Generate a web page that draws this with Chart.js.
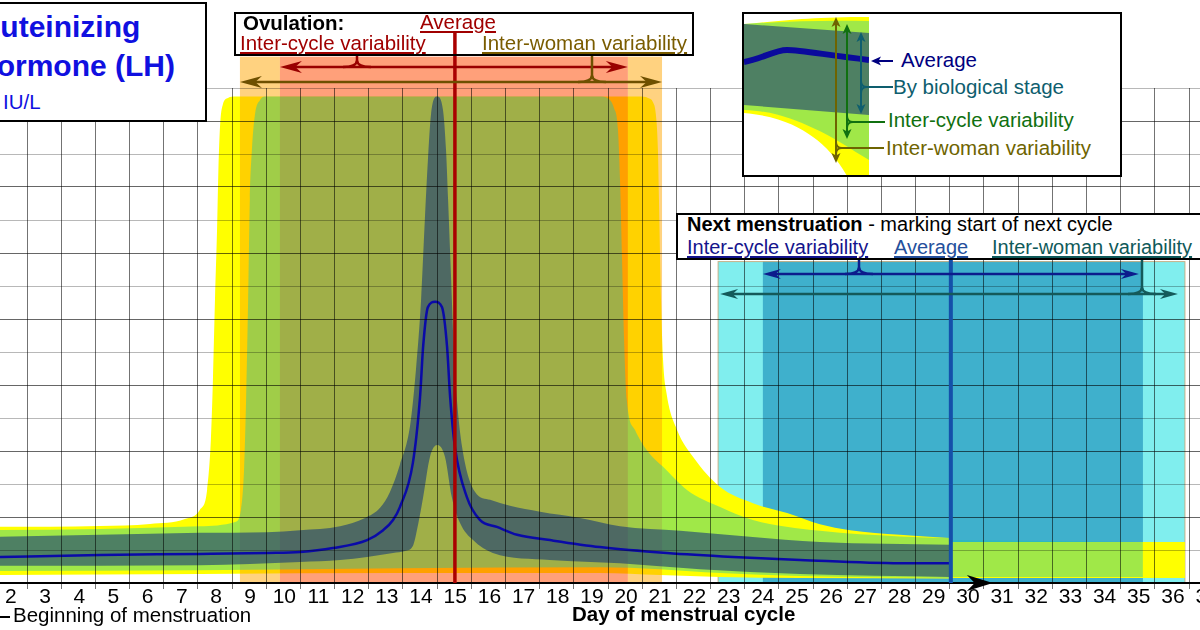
<!DOCTYPE html>
<html>
<head>
<meta charset="utf-8">
<script src="https://cdn.jsdelivr.net/npm/chart.js@4.4.1/dist/chart.umd.min.js"></script>
<style>
  body { margin: 0; background: #fff; }
  #wrap { position: relative; width: 1200px; height: 630px; overflow: hidden; font-family: "Liberation Sans", Arial, sans-serif; }
  #c { position: absolute; left: 0; top: 0; }
  .box { position: absolute; box-sizing: border-box; border: 2px solid #000; background: #fff; }
  .t { position: absolute; white-space: nowrap; font-size: 20.5px; line-height: 20.5px; }
  .s { font-size: 20px; line-height: 20px; }
  .u { text-decoration: underline; text-decoration-thickness: 1.5px; text-underline-offset: 2px; }
</style>
</head>
<body>
<div id="wrap">
  <canvas id="c" width="1200" height="630"></canvas>

  <!-- title -->
  <div class="box" style="left:-3px;top:2px;width:210px;height:120px"></div>
  <div class="t" style="left:-18px;top:12px;font-size:30px;line-height:30px;font-weight:bold;color:#1010e0">Luteinizing</div>
  <div class="t" style="left:-25px;top:51px;font-size:30px;line-height:30px;font-weight:bold;color:#1010e0">Hormone (LH)</div>
  <div class="t" style="left:3px;top:92px;color:#1010e0">IU/L</div>

  <!-- ovulation labels (box is see-through, nothing else is drawn under it) -->
  <div class="box" style="left:234px;top:12px;width:460px;height:44px;background:transparent"></div>
  <div class="t" style="left:243px;top:13px;font-weight:bold">Ovulation:</div>
  <div class="t u" style="left:420px;top:12px;color:#a00000">Average</div>
  <div class="t u" style="left:240px;top:33px;color:#a00000">Inter-cycle variability</div>
  <div class="t u" style="left:482px;top:33px;color:#7a5c00">Inter-woman variability</div>

  <!-- next menstruation labels -->
  <div class="box" style="left:676px;top:213px;width:540px;height:47px"></div>
  <div class="t s" style="left:687px;top:214px"><b>Next menstruation</b> - marking start of next cycle</div>
  <div class="t s u" style="left:687px;top:237px;color:#14148c">Inter-cycle variability</div>
  <div class="t s u" style="left:894px;top:237px;color:#24509c">Average</div>
  <div class="t s u" style="left:992px;top:237px;color:#0f5a5a">Inter-woman variability</div>

  <!-- legend -->
  <div class="box" style="left:742px;top:12px;width:380px;height:165px"></div>
  <svg width="1200" height="630" style="position:absolute;left:0;top:0">
    <defs><clipPath id="ic"><rect x="744" y="14" width="125" height="161"/></clipPath></defs>
    <g clip-path="url(#ic)">
      <path d="M744,24 C780,21 810,17 869,17 L869,176 L847,176 C838,160 826,146 813,137 C798,126 778,116 744,113 Z" fill="#ffff00"/>
      <path d="M744,24 C790,21 830,20 869,21 L869,160 C852,150 832,136 813,128 C795,120 775,111 744,110 Z" fill="rgba(17,197,180,0.4)"/>
      <path d="M744,24 L869,33 L869,115 L744,105 Z" fill="rgba(23,59,119,0.6)"/>
      <path d="M744,62 C762,59 774,50 787,50 C800,50 820,54 869,60" fill="none" stroke="#0a0a9c" stroke-width="6"/>
    </g>
    <g fill="none" stroke-width="2">
      <path d="M836,24 V157 M836,142 Q836,148 842,148 H884 M836,154 Q836,148 842,148" stroke="#6e6400"/>
      <path d="M847,30 V134 M847,116 Q847,122 853,122 H885 M847,128 Q847,122 853,122" stroke="#107010"/>
      <path d="M861,38 V109 M861,81 Q861,87 867,87 H893 M861,93 Q861,87 867,87" stroke="#0e5e6e"/>
      <path d="M877,61 H893" stroke="#000080"/>
    </g>
    <polygon points="836,17 831.5,27 836,24.5 840.5,27" fill="#6e6400"/>
    <polygon points="836,163 831.5,153 836,155.5 840.5,153" fill="#6e6400"/>
    <polygon points="847,24 842.5,34 847,31.5 851.5,34" fill="#107010"/>
    <polygon points="847,139 842.5,129 847,131.5 851.5,129" fill="#107010"/>
    <polygon points="861,32 856.5,42 861,39.5 865.5,42" fill="#0e5e6e"/>
    <polygon points="861,114 856.5,104 861,106.5 865.5,104" fill="#0e5e6e"/>
    <polygon points="871,61 881,56.5 878.5,61 881,65.5" fill="#000080"/>
  </svg>
  <div class="t" style="left:901px;top:50px;color:#000080">Average</div>
  <div class="t" style="left:893px;top:77px;color:#0e5e6e">By biological stage</div>
  <div class="t" style="left:888px;top:110px;color:#107010">Inter-cycle variability</div>
  <div class="t" style="left:886px;top:138px;color:#6e6400">Inter-woman variability</div>

  <!-- axis captions -->
  <div style="position:absolute;left:0;top:616px;width:10px;height:2px;background:#000"></div>
  <div class="t" style="left:13px;top:605px">Beginning of menstruation</div>
  <div class="t" style="left:572px;top:604px;font-weight:bold">Day of menstrual cycle</div>
</div>

<script>
// day labels under the axis
const dayTicks = [2, 3, 4, 5, 6, 7, 8, 9, 10, 11, 12, 13, 14, 15, 16, 17, 18, 19, 20,
                  21, 22, 23, 24, 25, 26, 27, 28, 29, 30, 31, 32, 33, 34, 35, 36, 37];

// average LH level (IU/L)
const avgDay = [1.5, 4.64, 7.56, 9.52, 10.49, 11.45, 12.45, 12.92, 13.21, 13.41, 13.79, 14.0, 14.09, 14.23, 14.44,
                14.64, 14.79, 14.88, 15.02, 15.37, 15.75, 16.25, 16.84, 17.8, 19.26, 21.22, 23.16, 25.12, 28.04, 29.5];
const avgLH = [3.9, 4.25, 4.4, 4.55, 4.7, 5.3, 6.5, 8.0, 9.55, 11.5, 18.2, 28.2, 35.8, 41.8, 42.6,
               41.8, 35.8, 28.2, 20.6, 13.0, 9.55, 8.5, 7.3, 6.5, 5.45, 4.55, 3.95, 3.5, 3.0, 3.0];

// range by biological stage
const stageHiDay = [1.5, 4.64, 7.56, 9.52, 10.49, 11.66, 12.39, 12.83, 13.12, 13.41, 13.71, 13.88, 14.03, 14.14, 14.23, 14.32, 14.5,
                    14.67, 14.76, 14.82, 14.91, 14.99, 15.08, 15.23, 15.61, 16.05, 16.63, 17.51, 18.68, 19.85, 21.61, 23.65, 25.7, 29.5];
const stageHi = [7.0, 7.3, 7.6, 7.7, 8.0, 8.6, 9.85, 11.4, 13.8, 17.9, 23.9, 32.3, 42.9, 55.0, 64.1, 71.0, 73.7,
                 71.7, 65.6, 58.1, 45.9, 35.3, 27.7, 20.6, 13.8, 12.6, 11.7, 10.8, 9.85, 8.6, 7.9, 7.0, 6.2, 5.8];
const stageLoDay = [1.5, 7.56, 10.49, 11.66, 12.45, 13.21, 13.56, 13.79, 13.94, 14.09, 14.29, 14.5, 14.73, 14.93, 15.17,
                    15.55, 16.13, 17.8, 19.85, 22.19, 25.12, 29.5];
const stageLo = [2.6, 2.7, 3.2, 3.5, 3.95, 4.55, 4.85, 5.6, 8.8, 13.0, 19.1, 20.9, 19.1, 13.0, 9.1,
                 6.5, 4.55, 3.5, 3.0, 2.1, 1.35, 0.9];

// inter-cycle variability
const cycleHiDay = [1.5, 4.64, 7.56, 8.59, 8.76, 8.85, 8.91, 8.97, 9.02, 9.08, 9.17, 9.32, 9.49, 19.26, 19.5,
                    19.67, 19.79, 19.85, 19.91, 19.97, 20.05, 20.29, 20.67, 21.11, 21.81, 22.78, 23.74, 25.7, 28.04, 29.5];
const cycleHi = [8.0, 8.2, 8.6, 9.25, 11.1, 17.1, 27.7, 42.9, 58.1, 65.6, 71.0, 73.2, 73.7, 73.7, 73.4,
                 72.0, 68.7, 61.1, 49.0, 36.8, 27.7, 23.2, 19.9, 17.6, 14.1, 11.5, 9.55, 7.9, 7.05, 6.8];
const cycleLoDay = [1.5, 7.56, 13.41, 19.26, 21.02, 22.78, 25.12, 29.5];
const cycleLo = [1.8, 1.95, 2.25, 2.4, 2.1, 1.5, 1.05, 0.75];

// inter-woman variability
const womanHiDay = [1.5, 4.64, 6.1, 7.12, 7.56, 7.77, 7.88, 7.94, 8.0, 8.06, 8.1, 8.15, 8.23, 8.38, 8.59, 20.43, 20.67,
                    20.82, 20.9, 20.96, 20.99, 21.05, 21.11, 21.22, 21.52, 21.99, 22.78, 23.74, 24.74, 25.7, 26.58, 28.04, 29.5];
const womanHi = [8.5, 8.65, 8.95, 9.7, 11.1, 14.1, 21.7, 30.8, 42.9, 53.5, 62.6, 69.4, 72.5, 73.5, 73.7, 73.7, 73.5,
                 72.8, 71.0, 65.6, 58.1, 42.9, 33.8, 28.5, 23.2, 19.1, 14.55, 12.1, 10.6, 8.9, 8.0, 7.3, 6.8];
const womanLoDay = [1.5, 7.56, 13.41, 19.26, 21.02, 22.78, 25.12, 29.5];
const womanLo = [1.2, 1.35, 1.5, 1.5, 1.2, 0.9, 0.75, 0.7];

// start of the next cycle
const nextCycleDay = [29.5, 35.15];
const nextCycleHi = [6.5, 6.2];
const nextCycleLo = [0.9, 0.9];
const nextWomanDay = [29.5, 36.38];
const nextWomanHi = [6.2, 6.2];
const nextWomanLo = [0.76, 0.76];

// ovulation and next menstruation (days)
const ovulationWoman = [8.73, 21.08];
const ovulationCycle = [9.9, 20.08];
const ovulationAvg = 15.02;
const ovulationTop = 79.75;
const mensWoman = [22.72, 36.38];
const mensCycle = [24.03, 35.15];
const mensAvg = 29.53;
const mensTop = 48.7;
const nextCycleArrow = 30.76;

Chart.defaults.font.family = '"Liberation Sans", Arial, sans-serif';

function pts(days, vals) {
  return days.map((d, i) => ({x: d, y: vals[i]}));
}
function band(days, vals, color) {
  return {
    data: pts(days, vals),
    borderWidth: 0,
    borderColor: 'transparent',
    pointRadius: 0,
    fill: color ? '+1' : false,
    backgroundColor: color || 'transparent',
    cubicInterpolationMode: 'monotone'
  };
}

function span(ctx, x, r, top, bot) {
  const a = x.getPixelForValue(r[0]), b = x.getPixelForValue(r[1]);
  ctx.fillRect(a, top, b - a, bot - top);
}
function head(ctx, x, y, dir, len, half) {
  ctx.beginPath();
  ctx.moveTo(x, y);
  ctx.lineTo(x - dir * len, y - half);
  ctx.lineTo(x - dir * len * 0.7, y);
  ctx.lineTo(x - dir * len, y + half);
  ctx.closePath();
  ctx.fill();
}
function dblArrow(ctx, x1, x2, y, color, len, half) {
  ctx.strokeStyle = color;
  ctx.fillStyle = color;
  ctx.lineWidth = 2.5;
  ctx.beginPath();
  ctx.moveTo(x1 + len * 0.6, y);
  ctx.lineTo(x2 - len * 0.6, y);
  ctx.stroke();
  head(ctx, x1, y, -1, len, half);
  head(ctx, x2, y, 1, len, half);
}
function brace(ctx, bx, yArrow, yTop, color) {
  const r = 7;
  ctx.strokeStyle = color;
  ctx.lineWidth = 2.5;
  ctx.beginPath();
  ctx.moveTo(bx - 2 * r, yArrow);
  ctx.quadraticCurveTo(bx, yArrow, bx, yArrow - r);
  ctx.lineTo(bx, yTop);
  ctx.moveTo(bx + 2 * r, yArrow);
  ctx.quadraticCurveTo(bx, yArrow, bx, yArrow - r);
  ctx.stroke();
}

const annot = {
  id: 'annot',
  beforeDatasetsDraw(chart) {
    const {ctx, scales: {x, y}} = chart;
    const top = y.getPixelForValue(mensTop), bot = y.getPixelForValue(0);
    ctx.save();
    ctx.fillStyle = '#80eeee';
    span(ctx, x, mensWoman, top, bot);
    ctx.fillStyle = '#3fb0cc';
    span(ctx, x, mensCycle, top, bot);
    ctx.strokeStyle = 'rgba(200,160,110,0.8)';
    ctx.lineWidth = 1;
    ctx.strokeRect(x.getPixelForValue(mensWoman[0]), top, x.getPixelForValue(mensWoman[1]) - x.getPixelForValue(mensWoman[0]), bot - top);
    ctx.restore();
  },
  afterDatasetDraw(chart, args) {
    // ovulation ranges blend over the inter-woman area (dataset 5)
    if (args.index !== 5) return;
    const {ctx, scales: {x, y}} = chart;
    const top = y.getPixelForValue(ovulationTop), bot = y.getPixelForValue(0);
    ctx.save();
    ctx.globalCompositeOperation = 'multiply';
    ctx.fillStyle = '#ffd280';
    span(ctx, x, [ovulationWoman[0], ovulationCycle[0]], top, bot);
    span(ctx, x, [ovulationCycle[1], ovulationWoman[1]], top, bot);
    ctx.fillStyle = '#ffa07a';
    span(ctx, x, ovulationCycle, top, bot);
    ctx.restore();
  },
  afterDraw(chart) {
    const {ctx, scales: {x, y}} = chart;
    const base = y.getPixelForValue(0);
    const px = v => x.getPixelForValue(v);
    ctx.save();

    const xo = px(ovulationAvg);
    ctx.strokeStyle = '#aa0000';
    ctx.lineWidth = 3.5;
    ctx.beginPath(); ctx.moveTo(xo, 32); ctx.lineTo(xo, base); ctx.stroke();

    const xm = px(mensAvg);
    ctx.strokeStyle = '#1450aa';
    ctx.lineWidth = 4;
    ctx.beginPath(); ctx.moveTo(xm, 259); ctx.lineTo(xm, base); ctx.stroke();

    dblArrow(ctx, px(ovulationCycle[0]), px(ovulationCycle[1]), 67, '#990000', 22, 6);
    brace(ctx, 357, 67, 55, '#990000');
    dblArrow(ctx, px(ovulationWoman[0]), px(ovulationWoman[1]), 82, '#6e5000', 22, 6);
    brace(ctx, 592, 82, 55, '#6e5000');

    dblArrow(ctx, px(mensCycle[0]), px(mensCycle[1]) - 4, 274, '#0c1c8c', 18, 5);
    brace(ctx, 859, 274, 259, '#0c1c8c');
    dblArrow(ctx, px(mensWoman[0]) + 2, px(mensWoman[1]) - 7, 294, '#145a5a', 18, 5);
    brace(ctx, 1142, 294, 259, '#145a5a');

    ctx.fillStyle = '#000';
    head(ctx, px(nextCycleArrow), base, 1, 26, 8);
    ctx.restore();
  }
};

const datasets = [
  {data: pts(avgDay, avgLH), borderColor: '#0a0aa8', borderWidth: 2.5, pointRadius: 0, fill: false, cubicInterpolationMode: 'monotone'},
  band(stageHiDay, stageHi, 'rgba(23,59,119,0.6)'),
  band(stageLoDay, stageLo),
  band(cycleHiDay, cycleHi, 'rgba(17,197,180,0.4)'),
  band(cycleLoDay, cycleLo),
  band(womanHiDay, womanHi, '#ffff00'),
  band(womanLoDay, womanLo),
  band(nextCycleDay, nextCycleHi, 'rgba(17,197,180,0.4)'),
  band(nextCycleDay, nextCycleLo),
  band(nextWomanDay, nextWomanHi, '#ffff00'),
  band(nextWomanDay, nextWomanLo)
];

new Chart(document.getElementById('c'), {
  type: 'line',
  data: {datasets: datasets},
  plugins: [annot],
  options: {
    responsive: false,
    animation: false,
    devicePixelRatio: 1,
    events: [],
    layout: {padding: {top: 88, left: 0, right: 0, bottom: 0}, autoPadding: false},
    plugins: {legend: {display: false}, tooltip: {enabled: false}},
    scales: {
      x: {
        type: 'linear',
        min: 1.71,
        max: 36.82,
        afterBuildTicks: s => { s.ticks = dayTicks.map(v => ({value: v})); },
        afterFit: s => { s.height = 47; s.paddingLeft = 0; s.paddingRight = 0; },
        grid: {offset: true, color: 'rgba(0,0,0,0.55)', lineWidth: 1, tickLength: 6, z: 1},
        border: {color: '#000', width: 2, z: 2},
        ticks: {autoSkip: false, maxRotation: 0, color: '#000', padding: -4, labelOffset: 1, font: {size: 21}, z: 2}
      },
      y: {
        min: 0,
        max: 75,
        afterFit: s => { s.width = 0; s.paddingTop = 0; s.paddingBottom = 0; },
        ticks: {display: false, stepSize: 5},
        border: {display: false},
        grid: {
          drawTicks: false,
          z: 1,
          color: c => (c.tick && c.tick.value % 10 === 0) ? 'rgba(0,0,0,0.6)' : 'rgba(0,0,0,0.28)'
        }
      }
    }
  }
});
</script>
</body>
</html>
